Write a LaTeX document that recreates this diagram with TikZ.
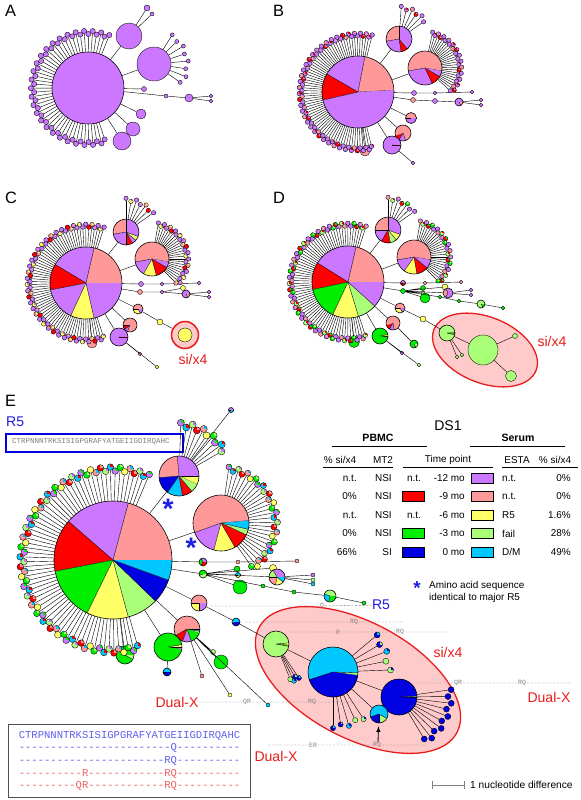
\documentclass[tikz,border=0pt]{standalone}
\usepackage{fontspec}
\setmainfont{Liberation Sans}
\setmonofont{Liberation Mono}
\usetikzlibrary{arrows,calc,positioning}

\definecolor{purp}{RGB}{204,119,255}
\definecolor{pnk}{RGB}{255,153,153}
\definecolor{rd}{RGB}{255,0,0}
\definecolor{yel}{RGB}{255,255,102}
\definecolor{grn}{RGB}{0,238,0}
\definecolor{lgrn}{RGB}{170,255,120}
\definecolor{blu}{RGB}{0,0,225}
\definecolor{cyn}{RGB}{0,200,255}
\definecolor{ellfill}{RGB}{255,202,202}
\definecolor{ellline}{RGB}{232,28,28}
\definecolor{labblue}{RGB}{30,30,225}
\definecolor{seqblue}{RGB}{95,95,235}
\definecolor{seqred}{RGB}{235,95,95}
\definecolor{anno}{RGB}{125,125,125}
\definecolor{boxgray}{RGB}{80,80,80}

% leaf colour palettes (7 entries each)
\def\palA{{"purp","purp","purp","purp","purp","purp","purp"}}
\def\palB{{"purp","purp","pnk","purp","purp","rd","purp"}}
\def\palC{{"purp","pnk","purp","purp","rd","purp","yel"}}
\def\palD{{"purp","grn","purp","pnk","purp","rd","lgrn"}}
\def\palE{{"grn","pnk","lgrn","purp","yel","rd","cyn"}}
\def\palF{{"cyn","lgrn","cyn","blu","cyn","lgrn","blu"}}
\def\palG{{"blu","blu","blu","blu","blu","blu","blu"}}

\tikzset{
  edge/.style={line width=0.35pt},
  wedge/.style={line width=0.3pt},
  rim/.style={line width=0.5pt},
  leaf/.style={circle,draw,line width=0.3pt,inner sep=0pt},
  bead/.style={leaf,minimum size=#1*0.06cm},
  annoline/.style={dashed,anno,line width=0.4pt,dash pattern=on 2pt off 1.2pt},
  annotext/.style={font=\ttfamily\fontsize{5.5}{6}\selectfont,anno,inner sep=0.6pt},
  panel/.style={font=\fontsize{14}{16}\selectfont,anchor=north west,inner sep=0pt},
  grouplab/.style={font=\fontsize{12}{14}\selectfont,inner sep=0pt},
  tab/.style={font=\fontsize{8.5}{10}\selectfont,inner sep=0pt},
  notetext/.style={font=\fontsize{8.5}{9}\selectfont,anchor=base west,inner sep=0pt},
  swatch/.style={draw,line width=0.4pt,minimum width=22*0.03cm,minimum height=10*0.03cm,inner sep=0pt},
  ellstyle/.style={draw=ellline,fill=ellfill,line width=1.1pt},
  starmark/.style={font=\bfseries\fontsize{24}{24}\selectfont,text=labblue,inner sep=0pt},
}

% pie node: [start angle] name, position, radius, slices (degrees/colour)
\newcommand{\pienode}[5][0]{%
  \node[circle,inner sep=0pt,minimum size=#4*0.06cm] (#2) at (#3) {};
  \gdef\angA{#1}%
  \foreach \p/\c in {#5}{%
    \pgfmathsetmacro\angB{\angA+\p}%
    \fill[\c] (#2.center) -- ++(\angA:#4) arc[start angle=\angA,end angle=\angB,radius=#4] -- cycle;
    \ifdim\p pt<360pt \draw[wedge] (#2.center) -- ++(\angA:#4);\fi
    \global\let\angA\angB
  }%
  \draw[rim] (#2.center) circle[radius=#4];
}

% fan of leaves: prefix, centre node, distance, first angle, last angle, count, leaf radius, palette
\newcommand{\fan}[8]{%
  \foreach \k in {1,...,#6}{%
    \pgfmathsetmacro\ang{#4+(#5-#4)*(\k-1)/(#6-1)}%
    \pgfmathsetmacro\rad{#3+1.2*#7*mod(\k,2)}%
    \pgfmathparse{#8[int(mod(3*\k,7))]}\let\leafa\pgfmathresult
    \pgfmathparse{#8[int(mod(5*\k+2,7))]}\let\leafb\pgfmathresult
    \node[bead=#7,fill=\leafa,
      path picture={\fill[\leafb] (path picture bounding box.center) rectangle (path picture bounding box.north east);}]
      (#1\k) at ($(#2.center)+(\ang:\rad)$) {};
    \draw[edge] (#2) -- (#1\k);
  }}

% legend row: name, y, pbmc %, MT2, left colour (empty = n.t.), time, right colour, ESTA, serum %
\newcommand{\legrow}[9]{%
  \node[tab,anchor=east] (#1pa) at (357,-#2) {#3};
  \node[tab,anchor=east] (#1mt) at (392,-#2) {#4};
  \if\relax\detokenize{#5}\relax
    \node[tab] (#1lt) at (414,-#2) {n.t.};
  \else
    \node[swatch,fill=#5] (#1lt) at (413,-#2) {};
  \fi
  \node[tab,anchor=east] (#1tp) at (465,-#2) {#6};
  \node[swatch,fill=#7] (#1rt) at (482,-#2) {};
  \node[tab,anchor=west] (#1es) at (502,-#2) {#8};
  \node[tab,anchor=east] (#1pb) at (571,-#2) {#9};
}

\begin{document}
\begin{tikzpicture}[x=0.03cm,y=0.03cm]
\useasboundingbox (0,0) rectangle (581,-800);

% ---------------- A
\node[panel] (labA) at (5,-5) {A};
\pienode{Aroot}{88,-88}{36}{360/purp}
\node[bead=13,fill=purp] (Aa) at (129,-36) {};
\node[bead=17,fill=purp] (Ab) at (154,-64) {};
\node[bead=2.5,fill=purp] (Ac) at (144,-89) {};
\node[bead=2,fill=purp] (Ad) at (166,-96) {};
\node[bead=4,fill=purp] (Ae) at (189,-98) {};
\node[bead=1.8,fill=purp] (Af) at (211,-96) {};
\node[bead=1.8,fill=purp] (Ag) at (211,-101) {};
\node[bead=5,fill=purp] (Ah) at (141,-114) {};
\node[bead=7,fill=purp] (Ai) at (133,-129) {};
\node[bead=9,fill=purp] (Aj) at (122,-141) {};
\node[bead=3,fill=purp] (Ak) at (147,-8) {};
\node[bead=2,fill=purp] (Al) at (152,-14) {};
\draw[edge] (Aroot) -- (Aa) (Aa) -- (Ak) (Aa) -- (Al) (Aroot) -- (Ab) (Aroot) -- (Ac)
  (Aroot) -- (Ad) (Ad) -- (Ae) (Ae) -- (Af) (Ae) -- (Ag) (Aroot) -- (Ah) (Aroot) -- (Ai) (Aroot) -- (Aj);
\fan{Abl}{Ab}{32}{58}{-35}{8}{2}{\palA}
\fan{Arl}{Aroot}{54}{68}{288}{52}{2.6}{\palA}

% ---------------- B
\node[panel] (labB) at (273,-5) {B};
\pienode[3]{Broot}{358,-92}{36}{76/pnk,71/purp,43/rd,170/purp}
\pienode{Ba}{399,-39}{13}{90/purp,100/pnk,90/purp,30/rd,50/purp}
\pienode[-10]{Bb}{425,-68}{17}{200/pnk,105/purp,35/rd,20/purp}
\pienode{Bc}{411,-118}{5.5}{180/pnk,180/purp}
\pienode[200]{Bd}{403,-133}{8}{40/rd,50/purp,270/pnk}
\pienode{Be}{392,-145}{9}{355/purp,5/rd}
\node[bead=5,fill=pnk] (Bf) at (365,-151) {};
\node[bead=2.5,fill=purp] (Bg) at (414,-93) {};
\node[bead=1.8,fill=purp] (Bh) at (435,-93) {};
\node[bead=1.8,fill=purp] (Bi) at (472,-92) {};
\node[bead=2.5,fill=pnk] (Bj) at (413,-100) {};
\node[bead=2.5,fill=purp] (Bk) at (435,-101) {};
\pienode{Bl}{459,-102}{4}{300/purp,60/pnk}
\node[bead=1.8,fill=purp] (Bm) at (481,-100) {};
\node[bead=1.8,fill=purp] (Bn) at (481,-105) {};
\node[bead=1.8,fill=purp] (Bo) at (413,-163) {};
\draw[edge] (Broot) -- (Ba) (Broot) -- (Bb) (Broot) -- (Bg) (Bg) -- (Bh) (Bh) -- (Bi)
  (Broot) -- (Bj) (Bj) -- (Bk) (Bk) -- (Bl) (Bl) -- (Bm) (Bl) -- (Bn)
  (Broot) -- (Bc) (Broot) -- (Bd) (Broot) -- (Be) (Be) -- (Bo) (Broot) -- (Bf);
\fan{Bal}{Ba}{30}{86}{35}{6}{2.2}{\palB}
\fan{Bbl}{Bb}{34}{78}{-42}{26}{2.2}{\palB}
\fan{Brl}{Broot}{56}{76}{284}{72}{2.3}{\palB}

% ---------------- C
\node[panel] (labC) at (5,-192) {C};
\pienode{Croot}{86,-283}{36}{77/pnk,72/purp,42/rd,54/purp,38/yel,77/purp}
\pienode{Ca}{126,-232}{13}{90/purp,100/pnk,80/purp,30/rd,20/purp,20/yel,20/purp}
\pienode[-10]{Cb}{152,-259}{17}{200/pnk,50/purp,45/yel,45/rd,20/purp}
\node[bead=2.5,fill=purp] (Cc) at (141,-284) {};
\node[bead=1.8,fill=purp] (Cd) at (162,-284) {};
\node[bead=1.8,fill=purp] (Ce) at (199,-283) {};
\node[bead=2.5,fill=pnk] (Cf) at (140,-292) {};
\node[bead=1.8,fill=purp] (Cg) at (162,-292) {};
\node[bead=2.5,fill=yel] (Ch) at (183,-288) {};
\pienode{Ci}{186,-294}{4}{300/purp,60/pnk}
\node[bead=1.8,fill=purp] (Cj) at (209,-292) {};
\node[bead=1.8,fill=purp] (Ck) at (209,-297) {};
\pienode{Cl}{138,-309}{5}{180/pnk,120/yel,60/purp}
\pienode[180]{Cm}{130,-325}{7}{40/rd,30/purp,290/pnk}
\pienode{Cn}{119,-337}{9}{355/purp,5/rd}
\node[bead=5,fill=pnk] (Co) at (92,-343) {};
\node[bead=3,fill=yel] (Cp) at (160,-322) {};
\node[circle,draw=ellline,fill=ellfill,line width=1.3pt,minimum size=27*0.03cm,inner sep=0pt] (Cring) at (185,-335) {};
\node[bead=7,fill=yel] (Cx) at (185,-335) {};
\node[bead=1.8,fill=pnk] (Cr) at (140,-354) {};
\node[bead=1.8,fill=yel] (Cs) at (157,-367) {};
\draw[edge] (Croot) -- (Ca) (Croot) -- (Cb) (Croot) -- (Cc) (Cc) -- (Cd) (Cd) -- (Ce)
  (Croot) -- (Cf) (Cf) -- (Cg) (Cg) -- (Ch) (Cg) -- (Ci) (Ci) -- (Cj) (Ci) -- (Ck)
  (Croot) -- (Cl) (Cl) -- (Cp) (Cp) -- (Cring) (Croot) -- (Cm) (Croot) -- (Cn)
  (Cn) -- (Cr) (Cn) -- (Cs) (Croot) -- (Co);
\node[grouplab,text=ellline] (sxC) at (193,-359) {si/x4};
\fan{Cal}{Ca}{31}{90}{35}{7}{2.2}{\palC}
\fan{Cbl}{Cb}{34}{80}{-45}{26}{2.2}{\palC}
\fan{Crl}{Croot}{56}{72}{288}{72}{2.3}{\palC}

% ---------------- D
\node[panel] (labD) at (273,-192) {D};
\draw[ellstyle,rotate around={-22:(485,-350)}] (485,-350) ellipse[x radius=55,y radius=33];
\pienode{Droot}{348,-282}{36}{77/pnk,71/purp,44/rd,53/grn,42/yel,31/lgrn,42/purp}
\pienode{Da}{388,-230}{13}{90/purp,90/pnk,60/purp,40/rd,30/lgrn,30/yel,20/purp}
\pienode[-10]{Db}{414,-257}{17}{200/pnk,45/purp,45/yel,40/rd,30/purp}
\pienode{Dc}{403,-283}{2.5}{180/purp,180/rd}
\node[bead=1.8,fill=pnk] (Dd) at (425,-283) {};
\node[bead=1.8,fill=pnk] (De) at (461,-282) {};
\node[bead=2.5,fill=grn] (Df) at (403,-291) {};
\node[bead=2.5,fill=grn] (Dg) at (423,-288) {};
\node[bead=2,fill=lgrn] (Dh) at (423,-293) {};
\node[bead=3,fill=yel] (Di) at (445,-287) {};
\pienode{Dj}{448,-293}{5}{120/purp,120/pnk,120/purp}
\node[bead=1.8,fill=purp] (Dk) at (471,-290) {};
\node[bead=1.8,fill=purp] (Dkk) at (471,-295) {};
\node[bead=5,fill=grn] (Dz) at (425,-298) {};
\node[bead=1.8,fill=grn] (Dza) at (440,-297) {};
\node[bead=1.8,fill=grn] (Dzb) at (459,-301) {};
\pienode{Dzc}{481,-304}{4}{300/lgrn,60/grn}
\node[bead=1.8,fill=grn] (Dzd) at (503,-308) {};
\pienode{Dl}{400,-308}{5}{180/pnk,120/yel,60/purp}
\node[bead=3,fill=yel] (Dm) at (423,-319) {};
\pienode[-5]{Dn}{447,-333}{8}{8/yel,344/lgrn,8/grn}
\node[bead=15,fill=lgrn] (Do) at (483,-350) {};
\node[bead=2.5,fill=lgrn] (Dp) at (515,-336) {};
\node[bead=5.5,fill=lgrn] (Dq) at (511,-376) {};
\node[bead=1.8,fill=lgrn] (Dr) at (457,-357) {};
\node[bead=1.8,fill=lgrn] (Ds) at (462,-355) {};
\pienode[200]{Dt}{393,-323}{7}{40/rd,40/purp,280/pnk}
\pienode[-10]{Du}{380,-336}{8}{10/blu,10/yel,340/grn}
\node[bead=5.5,fill=grn] (Dv) at (354,-342) {};
\pienode{Dw}{414,-344}{4}{300/grn,60/lgrn}
\node[bead=1.8,fill=purp] (Dx) at (402,-353) {};
\node[bead=1.8,fill=lgrn] (Dy) at (419,-365) {};
\draw[edge] (Droot) -- (Da) (Droot) -- (Db) (Droot) -- (Dc) (Dc) -- (Dd) (Dd) -- (De)
  (Droot) -- (Df) (Df) -- (Dg) (Df) -- (Dh) (Df) -- (Di) (Df) -- (Dj) (Dj) -- (Dk) (Dj) -- (Dkk)
  (Df) -- (Dz) (Df) -- (Dza) (Dza) -- (Dzb) (Dzb) -- (Dzc) (Dzc) -- (Dzd)
  (Droot) -- (Dl) (Dl) -- (Dm) (Dm) -- (Dn) (Dn) -- (Do) (Do) -- (Dp) (Do) -- (Dq)
  (Dn) -- (Dr) (Dn) -- (Ds) (Droot) -- (Dt) (Droot) -- (Du) (Droot) -- (Dv)
  (Dt) -- (Dw) (Du) -- (Dx) (Du) -- (Dy);
\node[grouplab,text=ellline] (sxD) at (552,-341) {si/x4};
\fan{Dal}{Da}{30}{90}{35}{7}{2.2}{\palD}
\fan{Dbl}{Db}{34}{80}{-45}{26}{2.2}{\palD}
\fan{Drl}{Droot}{56}{72}{288}{72}{2.3}{\palD}

% ---------------- E
\node[panel] (labE) at (5,-395) {E};
\node[grouplab,text=labblue,anchor=west] (r5lab) at (6,-422) {R5};
\node[draw=blu,line width=2.2pt,minimum width=177*0.03cm,minimum height=18*0.03cm,inner sep=0pt,anchor=north west] (r5box) at (4.5,-432.5) {};
\node[font=\ttfamily\fontsize{6.4}{7}\selectfont,text=anno,anchor=west,inner sep=0pt] (r5seq) at (12,-442) {CTRPNNNTRKSISIGPGRAFYATGEIIGDIRQAHC};

\draw[ellstyle,rotate around={-28:(358,-680)}] (358,-680) ellipse[x radius=112,y radius=58];

% sequence marks
\coordinate (m1s) at (210,-606);
\node[annotext] (m1a) at (322,-606) {Q};
\node[grouplab,text=labblue] (r5lab2) at (381,-605) {R5};
\coordinate (m2s) at (245,-622);
\node[annotext] (m2a) at (354,-622) {RQ};
\coordinate (m2e) at (403,-622);
\coordinate (m3s) at (290,-632);
\node[annotext] (m3a) at (338,-632) {R};
\node[annotext] (m3b) at (400,-632) {RQ};
\coordinate (m3e) at (448,-632);
\coordinate (m4s) at (417,-683);
\node[annotext] (m4a) at (458,-683) {QR};
\node[annotext] (m4b) at (522,-683) {RQ};
\coordinate (m4e) at (572,-683);
\node[grouplab,text=ellline] (dxL) at (177,-702) {Dual-X};
\node[annotext] (m5a) at (247,-702) {QR};
\node[annotext] (m5b) at (312,-702) {RQ};
\coordinate (m5e) at (363,-702);
\coordinate (m6s) at (268,-745);
\node[annotext] (m6a) at (313,-745) {ER};
\node[annotext] (m6b) at (377,-745) {RQ};
\coordinate (m6e) at (427,-745);
\draw[annoline] (m1s) -- (m1a) (m1a) -- (r5lab2) (m2s) -- (m2a) (m2a) -- (m2e)
  (m3s) -- (m3a) (m3a) -- (m3b) (m3b) -- (m3e) (m4s) -- (m4a) (m4a) -- (m4b) (m4b) -- (m4e)
  (dxL) -- (m5a) (m5a) -- (m5b) (m5b) -- (m5e) (m6s) -- (m6a) (m6a) -- (m6b) (m6b) -- (m6e);
\node[grouplab,text=ellline] (dxR) at (549,-697) {Dual-X};
\node[grouplab,text=ellline] (dxB) at (276,-756) {Dual-X};
\node[grouplab,text=ellline] (sxE) at (448,-652) {si/x4};

\pienode{Eroot}{113,-560}{59}{75/pnk,64/purp,52/rd,53/grn,41/yel,31/lgrn,24/blu,20/cyn}
\pienode[-25]{Ea}{179,-476}{20}{25/yel,95/purp,90/pnk,50/blu,45/cyn,30/rd,25/lgrn}
\pienode[5]{Eb}{221,-523}{28}{195/pnk,55/purp,45/yel,35/rd,12/lgrn,18/cyn}
\pienode{Ec}{231,-410}{2.5}{180/purp,180/cyn}
\pienode{Ed}{203,-562}{4}{120/purp,120/grn,120/rd}
\node[bead=2,fill=pnk] (Ee) at (238,-562) {};
\node[bead=2,fill=pnk] (Ef) at (297,-561) {};
\pienode{Eg}{203,-574}{4}{200/grn,160/lgrn}
\node[bead=3,fill=grn] (Eh) at (237,-569) {};
\pienode{Ei}{238,-575}{2.5}{180/cyn,180/yel}
\node[bead=3.5,fill=yel] (Ej) at (273,-568) {};
\pienode{Ek}{277,-577}{8}{120/purp,60/lgrn,80/pnk,60/yel,40/cyn}
\node[bead=2,fill=purp] (El) at (313,-575) {};
\node[bead=2,fill=cyn] (Em) at (313,-584) {};
\node[bead=2,fill=lgrn] (En) at (313,-580) {};
\node[bead=7,fill=grn] (Eo) at (240,-587) {};
\node[bead=2,fill=grn] (Ep) at (263,-586) {};
\node[bead=2,fill=grn] (Eq) at (294,-592) {};
\pienode{Er}{330,-596}{6}{160/lgrn,100/cyn,100/grn}
\node[bead=2,fill=grn] (Es) at (364,-603) {};
\pienode{Et}{199,-603}{8}{180/pnk,90/yel,90/purp}
\pienode{Eu}{236,-622}{4}{200/cyn,160/blu}
\pienode[-5]{Ev}{276,-644}{13}{10/yel,345/lgrn,5/grn}
\pienode[-8]{Ew}{333,-672}{25}{6/lgrn,200/cyn,154/blu}
\pienode[-3]{Ex}{399,-697}{18}{3/cyn,3/lgrn,354/blu}
\pienode[270]{Ey}{379,-714}{9}{60/lgrn,230/cyn,70/blu}
\pienode[-20]{EA}{187,-629}{13}{10/lgrn,10/cyn,210/pnk,40/rd,40/purp,50/grn}
\pienode[-10]{EB}{168,-647}{14}{10/purp,10/yel,340/grn}
\node[bead=7,fill=grn] (EC) at (221,-662) {};
\node[bead=2.5,fill=lgrn] (ED) at (213,-652) {};
\pienode{EE}{167,-672}{4}{180/cyn,180/blu}
\node[bead=2,fill=pnk] (EF) at (202,-676) {};
\node[bead=2,fill=yel] (EG) at (230,-695) {};
\node[bead=2,fill=cyn] (EH) at (268,-705) {};
\pienode{EI}{125,-655}{9}{330/grn,30/lgrn}
\draw[edge] (Eroot) -- (Ea) (Ea) -- (Ec) (Eroot) -- (Eb) (Eroot) -- (Ed) (Ed) -- (Ee) (Ee) -- (Ef)
  (Eroot) -- (Eg) (Eg) -- (Eh) (Eg) -- (Ei) (Eg) -- (Ej) (Eg) -- (Ek) (Ek) -- (El) (Ek) -- (Em) (Ek) -- (En)
  (Eg) -- (Eo) (Eg) -- (Ep) (Ep) -- (Eq) (Eq) -- (Er) (Er) -- (Es)
  (Eroot) -- (Et) (Et) -- (Eu) (Eu) -- (Ev) (Ev) -- (Ew) (Ew) -- (Ex) (Ew) -- (Ey)
  (Eroot) -- (EA) (EA) -- (EC) (EA) -- (ED) (EA) -- (EF) (EA) -- (EG) (EA) -- (EH)
  (Eroot) -- (EB) (EB) -- (EE) (Eroot) -- (EI);
\fan{Eal}{Ea}{49}{88}{30}{10}{3.5}{\palE}
\fan{Ebl}{Eb}{53}{82}{-55}{28}{3}{\palE}
\fan{Erl}{Eroot}{89}{67}{286}{72}{3.3}{\palE}
\fan{Evl}{Ev}{38}{-56}{-68}{4}{2.5}{\palF}
\fan{Ewl}{Ew}{54}{40}{2}{5}{3}{\palF}
\fan{Ewm}{Ew}{53}{-90}{-57}{5}{2.6}{\palF}
\fan{Exl}{Ex}{49}{8}{-59}{10}{3}{\palG}
\coordinate (arrTail) at (378,-742);
\draw[-latex,line width=0.7pt,shorten >=2.5pt] (arrTail) -- (Ey);

% stars
\node[starmark] (starA) at (168,-509) {*};
\node[starmark] (starB) at (191,-548) {*};

% ---------------- legend
\node[grouplab] (ds1) at (448,-426) {DS1};
\node[font=\bfseries\fontsize{9}{10}\selectfont,inner sep=0pt] (pbmc) at (378,-438) {PBMC};
\node[font=\bfseries\fontsize{9}{10}\selectfont,inner sep=0pt] (serum) at (518,-438) {Serum};
\draw[line width=0.6pt] (332,-446) -- (427,-446) (470,-446) -- (565,-446);
\node[tab] (hpa) at (340,-460) {\% si/x4};
\node[tab] (hmt) at (383,-460) {MT2};
\node[tab] (htp) at (448,-460) {Time point};
\node[tab] (hes) at (517,-460) {ESTA};
\node[tab] (hpb) at (555,-460) {\% si/x4};
\draw[line width=0.6pt] (323,-467) -- (393,-467) (403,-467) -- (493,-467) (502,-467) -- (578,-467);
\legrow{ra}{478}{n.t.}{NSI}{}{-12 mo}{purp}{n.t.}{0\%}
\legrow{rb}{496.5}{0\%}{NSI}{rd}{-9 mo}{pnk}{n.t.}{0\%}
\legrow{rc}{515}{n.t.}{NSI}{}{-6 mo}{yel}{R5}{1.6\%}
\legrow{rd}{533.5}{0\%}{NSI}{grn}{-3 mo}{lgrn}{fail}{28\%}
\legrow{re}{552}{66\%}{SI}{blu}{0 mo}{cyn}{D/M}{49\%}
\node[starmark,font=\bfseries\fontsize{16}{16}\selectfont] (starC) at (417,-588) {*};
\node[notetext] (noteA) at (429,-588) {Amino acid sequence};
\node[notetext] (noteB) at (429,-600.5) {identical to major R5};

% ---------------- sequence box
\node[draw=boxgray,line width=0.9pt,anchor=north west,minimum width=242*0.03cm,minimum height=73*0.03cm,
  align=left,font=\ttfamily\fontsize{9}{10.8}\selectfont] (seqbox) at (8,-724) {%
  \textcolor{seqblue}{CTRPNNNTRKSISIGPGRAFYATGEIIGDIRQAHC}\\
  \textcolor{seqblue}{------------------------Q----------}\\
  \textcolor{seqblue}{-----------------------RQ----------}\\
  \textcolor{seqred}{----------R------------RQ----------}\\
  \textcolor{seqred}{---------QR------------RQ----------}};

% scale bar
\coordinate (sbA) at (432,-785);
\node[font=\fontsize{8.7}{10}\selectfont,anchor=west,inner sep=0pt] (sbtext) at (470,-785) {1 nucleotide difference};
\draw[gray,|-|,line width=0.8pt] (sbA) -- ++(33,0);
\end{tikzpicture}
\end{document}
